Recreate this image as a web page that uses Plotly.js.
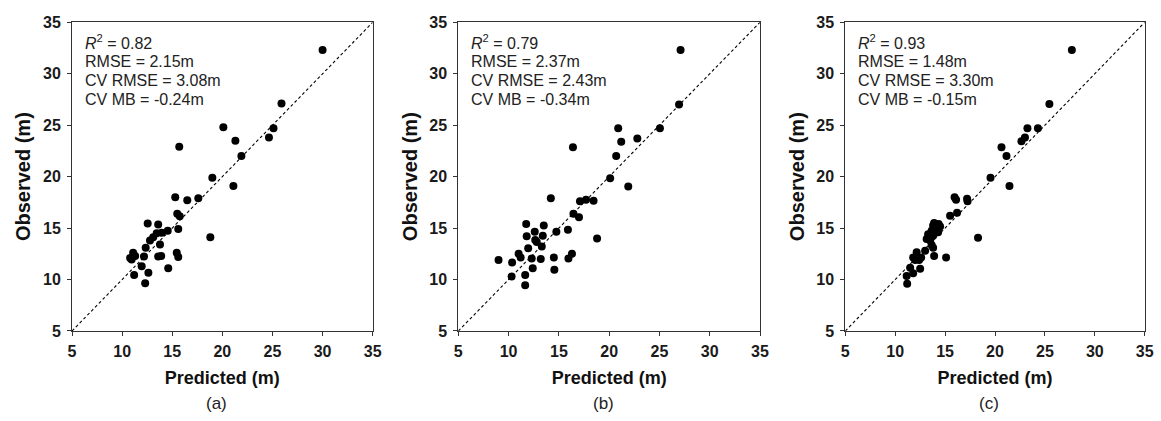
<!DOCTYPE html>
<html><head><meta charset="utf-8">
<script src="https://cdn.plot.ly/plotly-3.0.1.min.js"></script>
<style>html,body{margin:0;padding:0;background:#fff}</style>
</head><body><div id="chart" style="width:1161px;height:421px"></div>
<script>
// Panel (a)
const predA = [30.0, 25.9, 25.1, 24.65, 20.1, 21.3, 21.9, 15.7, 19.0, 21.1, 15.3, 16.5, 17.6, 15.5, 15.75, 18.8, 12.55, 13.6, 14.55, 15.6, 13.95, 13.45, 13.1, 12.78, 13.78, 12.35, 15.45, 15.6, 13.6, 13.9, 12.18, 11.1, 10.8, 10.95, 11.3, 11.95, 14.6, 11.2, 12.62, 12.3];
const obsA  = [32.3, 27.1, 24.7, 23.8, 24.8, 23.5, 22.0, 22.9, 19.9, 19.1, 18.0, 17.7, 17.9, 16.4, 16.15, 14.1, 15.45, 15.35, 14.75, 14.9, 14.55, 14.5, 14.1, 13.8, 13.4, 13.1, 12.6, 12.2, 12.25, 12.3, 12.25, 12.6, 12.1, 11.95, 12.3, 11.3, 11.1, 10.45, 10.65, 9.65];
// Panel (b)
const predB = [27.1, 26.95, 25.05, 20.9, 22.8, 21.2, 20.7, 16.4, 20.1, 21.9, 14.2, 17.1, 17.7, 18.45, 16.45, 17.0, 18.8, 11.75, 13.5, 12.6, 11.8, 13.4, 12.65, 12.8, 14.75, 15.9, 13.3, 11.95, 11.0, 11.2, 12.3, 13.2, 14.5, 15.95, 16.3, 9.0, 10.35, 12.4, 14.55, 10.3, 11.65, 11.65];
const obsB  = [32.3, 27.0, 24.7, 24.7, 23.7, 23.4, 22.0, 22.85, 19.85, 19.05, 17.9, 17.6, 17.75, 17.65, 16.4, 16.05, 14.0, 15.4, 15.25, 14.65, 14.2, 14.25, 13.85, 13.65, 14.65, 14.85, 13.2, 13.05, 12.5, 12.15, 12.05, 12.0, 12.15, 12.05, 12.5, 11.9, 11.65, 11.1, 10.95, 10.3, 10.45, 9.45];
// Panel (c)
const predC = [27.7, 25.45, 23.25, 24.3, 23.0, 22.65, 20.65, 21.15, 19.55, 21.45, 15.95, 16.1, 17.2, 17.25, 16.2, 15.5, 18.3, 13.9, 14.35, 13.8, 14.5, 14.1, 14.3, 13.65, 13.3, 13.15, 13.8, 13.5, 13.65, 13.0, 13.8, 13.9, 15.1, 12.15, 11.8, 12.0, 12.6, 12.4, 11.5, 12.5, 11.8, 11.15, 11.2];
const obsC  = [32.3, 27.05, 24.7, 24.7, 23.8, 23.45, 22.85, 22.0, 19.9, 19.1, 18.0, 17.75, 17.85, 17.6, 16.5, 16.2, 14.05, 15.5, 15.4, 15.25, 15.15, 14.9, 14.6, 14.75, 14.4, 13.95, 14.25, 13.8, 13.35, 12.8, 13.1, 12.3, 12.15, 12.65, 12.15, 11.9, 12.15, 11.9, 11.15, 11.05, 10.6, 10.35, 9.6];

const oneToOne = [5, 35];
const tickVals = [5, 10, 15, 20, 25, 30, 35];
const panelLabels = ['(a)', '(b)', '(c)'];
const r2 = ['0.82', '0.79', '0.93'];
const rmse = ['2.15', '2.37', '1.48'];
const cvRmse = ['3.08', '2.43', '3.30'];
const cvMb = ['-0.24', '-0.34', '-0.15'];
const xTitle = 'Predicted (m)';
const yTitle = 'Observed (m)';

const preds = [predA, predB, predC];
const obss = [obsA, obsB, obsC];
const xDomains = [[0.06202, 0.32102], [0.39475, 0.65461], [0.72808, 0.98596]];
const yDomain = [0.2138, 0.9470];
const FONT = 'Arial, "Liberation Sans", sans-serif';
// vertical positions (fraction of plot height) of the four stats lines
const statY = [0.937, 0.874, 0.812, 0.750];

const traces = [];
const layout = {
  width: 1161, height: 421,
  margin: {l: 0, r: 0, t: 0, b: 0},
  paper_bgcolor: '#fff', plot_bgcolor: '#fff',
  showlegend: false,
  font: {family: FONT, color: '#111'},
  annotations: []
};

for (let i = 0; i < 3; i++) {
  const s = i === 0 ? '' : String(i + 1);
  traces.push({
    x: oneToOne, y: oneToOne, xaxis: 'x' + s, yaxis: 'y' + s,
    mode: 'lines', line: {color: '#000', width: 1.1, dash: '3px,2.5px'},
    hoverinfo: 'skip'
  });
  traces.push({
    x: preds[i], y: obss[i], xaxis: 'x' + s, yaxis: 'y' + s,
    mode: 'markers', marker: {color: '#000', size: 8},
    cliponaxis: false
  });
  const axCommon = {
    range: [5, 35], tickvals: tickVals, ticks: 'outside', ticklen: 4,
    tickwidth: 1, tickcolor: '#333',
    showline: true, linecolor: '#333', linewidth: 1, mirror: true,
    showgrid: false, zeroline: false,
    tickfont: {family: FONT, size: 16, color: '#1a1a1a', weight: 'bold'}
  };
  layout['xaxis' + s] = Object.assign({}, axCommon, {
    domain: xDomains[i], anchor: 'y' + s, ticklabelstandoff: 2,
    title: {text: '<b>' + xTitle + '</b>', font: {family: FONT, size: 18, color: '#111'}, standoff: 12}
  });
  layout['yaxis' + s] = Object.assign({}, axCommon, {
    domain: yDomain, anchor: 'x' + s, ticklabelstandoff: 3,
    title: {text: '<b>' + yTitle + '</b>', font: {family: FONT, size: 20, color: '#111'}, standoff: 6}
  });
  const lines = ['<i>R</i><sup>2</sup> = ' + r2[i], 'RMSE = ' + rmse[i] + 'm',
                 'CV RMSE = ' + cvRmse[i] + 'm', 'CV MB = ' + cvMb[i] + 'm'];
  lines.forEach((t, k) => {
    layout.annotations.push({
      xref: 'x' + s + ' domain', yref: 'y' + s + ' domain', x: 0.036, y: statY[k],
      xanchor: 'left', yanchor: 'middle', align: 'left', showarrow: false,
      font: {family: FONT, size: 16, color: '#222'}, text: t
    });
  });
  layout.annotations.push({
    xref: 'x' + s + ' domain', yref: 'paper', x: 0.48, y: 0.042,
    xanchor: 'center', yanchor: 'middle', showarrow: false,
    font: {family: FONT, size: 17, color: '#222'},
    text: panelLabels[i]
  });
}

Plotly.newPlot('chart', traces, layout, {staticPlot: true, displayModeBar: false});
</script>
</body></html>
